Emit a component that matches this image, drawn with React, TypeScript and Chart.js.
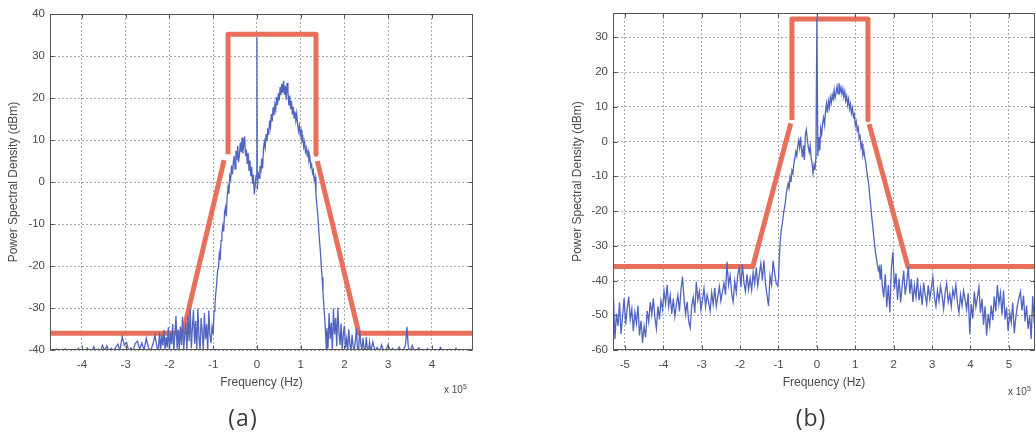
import React, { useEffect, useRef } from "react";
import { Chart, registerables } from "chart.js";

Chart.register(...registerables);

// ---------- Panel (a) ----------
const freqA: number[] = [
  -4.73,-4.68,-4.63,-4.58,-4.53,-4.48,-4.43,-4.38,-4.33,-4.28,
  -4.23,-4.18,-4.13,-4.08,-4.03,-3.98,-3.93,-3.88,-3.83,-3.78,
  -3.73,-3.68,-3.63,-3.58,-3.53,-3.48,-3.43,-3.38,-3.33,-3.28,
  -3.23,-3.18,-3.13,-3.08,-3.03,-2.98,-2.93,-2.88,-2.83,-2.78,
  -2.73,-2.68,-2.63,-2.58,-2.53,-2.48,-2.43,-2.38,-2.33,-2.28,
  -2.25,-2.225,-2.2,-2.175,-2.15,-2.125,-2.1,-2.075,-2.05,-2.025,
  -2,-1.975,-1.95,-1.925,-1.9,-1.875,-1.85,-1.825,-1.8,-1.775,
  -1.75,-1.725,-1.7,-1.675,-1.65,-1.625,-1.6,-1.575,-1.55,-1.525,
  -1.5,-1.475,-1.45,-1.425,-1.4,-1.375,-1.35,-1.325,-1.3,-1.275,
  -1.25,-1.225,-1.2,-1.175,-1.15,-1.125,-1.1,-1.075,-1.05,-1.025,
  -1,-0.98,-0.96,-0.94,-0.92,-0.9,-0.88,-0.86,-0.84,-0.82,
  -0.8,-0.78,-0.76,-0.74,-0.72,-0.7,-0.68,-0.66,-0.64,-0.62,
  -0.6,-0.58,-0.56,-0.54,-0.52,-0.5,-0.48,-0.46,-0.44,-0.42,
  -0.4,-0.38,-0.36,-0.34,-0.32,-0.3,-0.28,-0.26,-0.24,-0.22,
  -0.2,-0.18,-0.16,-0.14,-0.12,-0.1,-0.08,-0.06,-0.04,-0.02,
  0,
  0.01,0.03,0.05,0.07,0.09,0.11,0.13,0.15,0.17,0.19,
  0.21,0.23,0.25,0.27,0.29,0.31,0.33,0.35,0.37,0.39,
  0.41,0.43,0.45,0.47,0.49,0.51,0.53,0.55,0.57,0.59,
  0.61,0.63,0.65,0.67,0.69,0.71,0.73,0.75,0.77,0.79,
  0.81,0.83,0.85,0.87,0.89,0.91,0.93,0.95,0.97,0.99,
  1.01,1.03,1.05,1.07,1.09,1.11,1.13,1.15,1.17,1.19,
  1.21,1.23,1.25,1.27,1.29,1.31,1.33,1.35,1.37,1.39,
  1.41,1.43,1.45,1.47,1.49,1.51,1.53,1.55,1.57,1.59,
  1.6,1.625,1.65,1.675,1.7,1.725,1.75,1.775,1.8,1.825,
  1.85,1.875,1.9,1.925,1.95,1.975,2,2.025,2.05,2.075,
  2.1,2.125,2.15,2.175,2.2,2.225,2.25,2.275,2.3,2.325,
  2.35,2.375,2.4,2.425,2.45,2.475,2.5,2.525,2.55,2.575,
  2.6,2.65,2.7,2.75,2.8,2.85,2.9,2.95,3,3.05,
  3.1,3.15,3.2,3.25,3.3,3.35,3.4,3.43,3.46,3.5,
  3.55,3.6,3.65,3.7,3.75,3.8,3.85,3.9,3.95,4,
  4.05,4.1,4.15,4.2,4.25,4.3,4.35,4.4,4.45,4.5,
  4.55,4.6,4.65,4.7,4.75,4.8,4.85,4.9,4.94,
];

const psdA: number[] = [
  -40.5,-40.2,-40.6,-39.8,-40.4,-40.1,-40.6,-39.7,-40.3,-40.5,
  -39.9,-40.4,-40.2,-39.6,-40.5,-40.0,-40.4,-39.5,-40.3,-40.6,
  -39.2,-40.4,-39.8,-40.5,-38.9,-40.2,-39.0,-40.4,-39.6,-40.3,
  -39.4,-38.6,-40.1,-36.8,-38.9,-38.2,-40.3,-39.5,-40.2,-38.4,
  -37.9,-39.8,-38.3,-40.1,-37.2,-39.4,-40.2,-38.7,-36.5,-39.6,
  -39.5,-35.8,-40.3,-36.4,-38.9,-35.2,-40.1,-36.9,-39.4,-34.6,
  -40.2,-35.9,-38.6,-33.8,-40.4,-36.2,-31.9,-39.7,-35.1,-40.3,
  -34.4,-38.8,-32.1,-40.2,-36.5,-33.6,-40.1,-31.8,-37.9,-30.2,
  -39.6,-34.7,-30.4,-38.5,-33.1,-40.3,-30.1,-36.8,-39.9,-32.4,
  -35.7,-40.2,-31.2,-37.4,-33.9,-40.1,-30.6,-36.2,-38.4,-34.5,
  -36.2,-30.8,-29.1,-26.5,-24.3,-21.2,-20.4,-17.1,-18.6,-13.9,
  -12.2,-10.4,-11.8,-7.3,-6.1,-8.2,-3.4,-1.2,-2.8,1.4,
  0.6,3.9,1.8,4.6,6.2,3.1,7.4,5.2,8.6,4.7,
  6.3,9.4,7.1,10.6,6.8,8.9,10.8,6.2,7.7,4.3,
  6.9,2.8,5.1,1.4,3.6,-0.4,1.8,-2.9,-0.8,1.5,
  34.5,
  -1.8,2.4,0.9,3.8,2.1,5.6,3.2,7.9,9.6,8.1,
  11.4,9.7,12.8,11.2,14.6,13.1,16.2,14.4,17.8,15.9,
  18.4,17.1,20.2,18.3,21.1,19.4,22.6,20.7,23.4,21.2,
  24.1,20.8,22.9,19.6,23.6,21.4,18.2,20.6,17.4,19.3,
  16.1,17.9,15.2,16.8,14.6,16.3,13.8,12.1,13.4,11.2,
  12.3,9.8,10.6,8.4,9.5,7.2,8.1,6.4,7.3,5.1,
  5.9,3.6,4.2,2.1,2.8,0.4,1.2,-3.1,-5.4,-7.6,
  -10.8,-13.9,-16.4,-19.8,-22.7,-26.1,-29.4,-32.3,-36.1,-40.4,
  -34.8,-39.6,-31.2,-37.4,-33.5,-40.2,-30.1,-36.3,-32.4,-39.1,
  -29.9,-35.6,-38.8,-33.7,-40.3,-36.1,-34.2,-39.5,-37.3,-40.2,
  -35.1,-38.6,-40.3,-36.4,-39.2,-40.1,-37.8,-34.9,-39.6,-40.3,
  -35.4,-38.5,-40.2,-37.1,-39.7,-40.4,-36.9,-39.8,-40.3,-38.1,
  -40.4,-38.1,-40.2,-39.4,-40.5,-38.8,-40.3,-40.1,-38.7,-40.4,
  -39.6,-40.2,-40.5,-39.3,-40.3,-40.1,-38.6,-34.5,-39.2,-40.3,
  -38.9,-40.4,-40.1,-39.5,-40.3,-40.5,-40.2,-39.7,-40.4,-40.2,
  -40.5,-39.9,-40.3,-39.4,-40.4,-40.1,-40.5,-39.8,-40.3,-40.4,
  -39.6,-40.2,-40.5,-40.1,-40.3,-39.9,-40.4,-40.2,-40.3,
];

const maskFreqA: number[] = [-4.73, -1.69, -0.75, -0.71, -0.66, -0.66, 1.35, 1.35, 1.365, 1.38, 2.33, 4.94];
const maskA: (number | null)[] = [-36, -36, 5.2, null, 6.6, 35.2, 35.2, 6.6, null, 5.0, -36, -36];

// ---------- Panel (b) ----------
const freqB: number[] = [
  -5.30,-5.26,-5.22,-5.18,-5.14,-5.10,-5.06,-5.02,-4.98,-4.94,
  -4.90,-4.86,-4.82,-4.78,-4.74,-4.70,-4.66,-4.62,-4.58,-4.54,
  -4.50,-4.46,-4.42,-4.38,-4.34,-4.30,-4.26,-4.22,-4.18,-4.14,
  -4.10,-4.06,-4.02,-3.98,-3.94,-3.90,-3.86,-3.82,-3.78,-3.74,
  -3.70,-3.66,-3.62,-3.58,-3.54,-3.50,-3.46,-3.42,-3.38,-3.34,
  -3.30,-3.26,-3.22,-3.18,-3.14,-3.10,-3.06,-3.02,-2.98,-2.94,
  -2.90,-2.86,-2.82,-2.78,-2.74,-2.70,-2.66,-2.62,-2.58,-2.54,
  -2.50,-2.46,-2.42,-2.38,-2.34,-2.30,-2.26,-2.22,-2.18,-2.14,
  -2.10,-2.06,-2.02,-1.98,-1.94,-1.90,-1.86,-1.82,-1.78,-1.74,
  -1.70,-1.66,-1.62,-1.58,-1.54,-1.50,-1.46,-1.42,-1.38,-1.34,
  -1.30,-1.26,-1.22,-1.18,-1.14,-1.10,-1.06,-1.02,
  -1,-0.975,-0.95,-0.925,-0.9,-0.875,-0.85,-0.825,-0.8,-0.775,
  -0.75,-0.725,-0.7,-0.675,-0.65,-0.625,-0.6,-0.575,-0.55,-0.525,
  -0.5,-0.475,-0.45,-0.425,-0.4,-0.375,-0.35,-0.325,-0.3,-0.275,
  -0.25,-0.225,-0.2,-0.175,-0.15,-0.125,-0.1,-0.075,-0.05,-0.025,
  0,
  0.025,0.05,0.075,0.1,0.125,0.15,0.175,0.2,0.225,0.25,
  0.275,0.3,0.325,0.35,0.375,0.4,0.425,0.45,0.475,0.5,
  0.525,0.55,0.575,0.6,0.625,0.65,0.675,0.7,0.725,0.75,
  0.775,0.8,0.825,0.85,0.875,0.9,0.925,0.95,0.975,1,
  1.025,1.05,1.075,1.1,1.125,1.15,1.175,1.2,1.225,1.25,
  1.275,1.3,1.325,1.35,1.375,1.4,1.425,1.45,1.475,1.5,
  1.525,1.55,1.575,1.6,1.625,1.65,1.675,1.7,
  1.74,1.78,1.82,1.86,1.9,1.94,1.98,2.02,2.06,2.1,
  2.14,2.18,2.22,2.26,2.3,2.34,2.38,2.42,2.46,2.5,
  2.54,2.58,2.62,2.66,2.7,2.74,2.78,2.82,2.86,2.9,
  2.94,2.98,3.02,3.06,3.1,3.14,3.18,3.22,3.26,3.3,
  3.34,3.38,3.42,3.46,3.5,3.54,3.58,3.62,3.66,3.7,
  3.74,3.78,3.82,3.86,3.9,3.94,3.98,4.02,4.06,4.1,
  4.14,4.18,4.22,4.26,4.3,4.34,4.38,4.42,4.46,4.5,
  4.54,4.58,4.62,4.66,4.7,4.74,4.78,4.82,4.86,4.9,
  4.94,4.98,5.02,5.06,5.1,5.14,5.18,5.22,5.26,5.3,
  5.34,5.38,5.42,5.46,5.5,5.54,5.58,5.62,5.66,
];

const psdB: number[] = [
  -44.2,-56.8,-49.5,-53.1,-46.3,-55.4,-50.2,-45.1,-52.7,-47.9,
  -44.6,-51.3,-48.2,-54.6,-49.1,-52.4,-47.3,-55.8,-51.6,-57.9,
  -53.2,-56.4,-48.7,-51.9,-46.2,-49.8,-45.1,-50.6,-53.9,-47.4,
  -51.2,-45.8,-48.3,-43.1,-46.7,-41.2,-47.5,-44.3,-49.6,-45.2,
  -50.4,-47.1,-44.2,-48.9,-42.6,-38.9,-45.3,-49.7,-46.1,-51.8,
  -53.6,-47.2,-44.8,-49.3,-40.4,-45.6,-43.1,-48.4,-45.7,-42.3,
  -47.5,-44.1,-46.3,-48.8,-43.5,-46.9,-42.2,-47.4,-44.6,-41.8,
  -45.9,-43.2,-40.7,-44.1,-34.6,-41.3,-38.5,-43.7,-46.1,-40.2,
  -43.4,-38.1,-36.3,-41.9,-35.4,-40.6,-43.2,-38.2,-42.6,-39.4,
  -42.8,-37.6,-40.9,-36.2,-41.5,-38.3,-35.1,-39.8,-34.2,-40.7,
  -44.1,-47.3,-38.6,-41.2,-34.3,-37.9,-40.8,-41.5,
  -39.6,-32.4,-28.1,-25.3,-23.6,-21.2,-19.4,-17.8,-15.3,-13.6,
  -12.1,-13.4,-10.2,-11.6,-8.3,-9.2,-6.4,-4.8,-2.9,-4.1,
  -1.5,0.3,-1.8,1.4,-2.2,-4.6,-1.1,-5.3,1.9,3.4,
  0.8,-1.6,-3.1,-1.2,-4.7,-6.3,-9.1,-6.8,-8.2,-4.5,
  35.8,
  -4.2,1.3,-2.6,3.8,2.1,5.4,6.9,4.8,8.7,10.9,
  8.3,11.6,9.8,12.7,11.1,13.4,12.2,14.8,12.6,14.1,
  15.9,13.8,16.8,14.3,15.6,13.7,15.2,12.9,14.4,11.8,
  13.1,10.6,12.2,9.4,10.8,8.2,9.6,7.1,7.9,4.6,
  5.8,3.2,4.1,0.9,1.6,-1.8,-0.6,-3.9,-2.7,-4.8,
  -6.1,-8.7,-10.4,-12.3,-15.6,-18.2,-21.4,-23.9,-26.7,-29.3,
  -31.8,-33.6,-35.4,-37.1,-36.2,-39.8,-35.4,-41.3,
  -44.8,-38.2,-47.6,-41.3,-49.2,-36.4,-31.8,-42.5,-37.9,-45.6,
  -39.4,-46.3,-41.7,-37.2,-44.1,-40.6,-35.9,-43.8,-39.6,-46.2,
  -41.5,-44.8,-39.2,-45.7,-42.3,-47.1,-40.6,-44.2,-46.8,-41.4,
  -45.3,-42.1,-39.1,-44.7,-47.4,-42.8,-45.9,-41.6,-44.3,-48.2,
  -43.4,-40.8,-46.2,-43.9,-47.5,-42.6,-44.8,-41.2,-46.4,-49.3,
  -44.1,-47.2,-42.9,-45.6,-48.4,-43.7,-55.3,-46.8,-50.9,-43.2,
  -47.6,-44.8,-41.9,-49.3,-45.2,-52.7,-47.4,-55.8,-49.6,-53.1,
  -47.2,-51.4,-44.6,-48.9,-41.3,-46.7,-43.5,-49.8,-42.9,-51.2,
  -47.8,-54.6,-49.3,-52.1,-46.4,-55.2,-50.7,-47.3,-45.1,-43.2,
  -48.6,-44.3,-51.8,-47.2,-53.9,-50.1,-56.8,-44.5,-52.3,
];

const maskFreqB: number[] = [-5.31, -1.67, -0.68, -0.665, -0.65, -0.65, 1.33, 1.33, 1.345, 1.36, 2.37, 5.68];
const maskB: (number | null)[] = [-36, -36, 5.2, null, 6.2, 35.3, 35.3, 6.3, null, 5.0, -36, -36];

const X_TITLE = "Frequency (Hz)";
const Y_TITLE = "Power Spectral Density (dBm)";

const TEXT = "#4a4a4a";
const FONT = "'Liberation Sans', Arial, Helvetica, sans-serif";
const BLUE = "#5064c0";
const RED = "#e8705b";

const toPoints = (xs: number[], ys: (number | null)[]) =>
  xs.map((x, i) => ({ x, y: ys[i] }));

const boxPlugin = {
  id: "matlabBox",
  afterDraw(chart: any) {
    const { ctx, chartArea: a, scales } = chart;
    ctx.save();
    ctx.setLineDash([]);
    ctx.strokeStyle = "#555";
    ctx.lineWidth = 1;
    const L = Math.round(a.left) + 0.5;
    const T = Math.round(a.top) + 0.5;
    const R = Math.round(a.right) - 0.5;
    const B = Math.round(a.bottom) - 0.5;
    ctx.strokeRect(L, T, R - L, B - T);
    ctx.beginPath();
    scales.x.ticks.forEach((t: any) => {
      const p = Math.round(scales.x.getPixelForValue(t.value)) + 0.5;
      ctx.moveTo(p, B);
      ctx.lineTo(p, B - 4);
      ctx.moveTo(p, T);
      ctx.lineTo(p, T + 4);
    });
    scales.y.ticks.forEach((t: any) => {
      const p = Math.round(scales.y.getPixelForValue(t.value)) + 0.5;
      ctx.moveTo(L, p);
      ctx.lineTo(L + 4, p);
      ctx.moveTo(R, p);
      ctx.lineTo(R - 4, p);
    });
    ctx.stroke();
    ctx.restore();
  },
};

interface PanelSpec {
  freq: number[];
  psd: number[];
  maskFreq: number[];
  mask: (number | null)[];
  xMin: number;
  xMax: number;
  yMin: number;
  yMax: number;
  yAxisWidth: number;
  yTitlePad: number;
  padding: { left: number; top: number; right: number; bottom: number };
}

function buildConfig(s: PanelSpec): any {
  const tickFont = { family: FONT, size: 11.5 };
  const titleFont = { family: FONT, size: 12 };
  return {
    type: "line",
    data: {
      datasets: [
        {
          data: toPoints(s.freq, s.psd),
          borderColor: BLUE,
          borderWidth: 1.3,
          pointRadius: 0,
          tension: 0,
          clip: 0,
        },
        {
          data: toPoints(s.maskFreq, s.mask),
          borderColor: RED,
          borderWidth: 5,
          pointRadius: 0,
          tension: 0,
          spanGaps: false,
          borderJoinStyle: "round",
          clip: 0,
        },
      ],
    },
    options: {
      animation: false,
      responsive: false,
      maintainAspectRatio: false,
      devicePixelRatio: 1,
      events: [],
      layout: { padding: s.padding },
      plugins: { legend: { display: false }, tooltip: { enabled: false } },
      scales: {
        x: {
          type: "linear",
          min: s.xMin,
          max: s.xMax,
          afterFit: (sc: any) => {
            sc.height = 50;
          },
          ticks: {
            stepSize: 1,
            includeBounds: false,
            padding: 8,
            autoSkip: false,
            maxRotation: 0,
            font: tickFont,
            color: TEXT,
            callback: (v: any) => String(v),
          },
          grid: { color: "#aaaaaa", lineWidth: 1, drawTicks: false },
          border: { display: false, dash: [2, 2] },
          title: {
            display: true,
            text: X_TITLE,
            font: titleFont,
            color: TEXT,
            padding: { top: 0, bottom: 10 },
          },
        },
        y: {
          type: "linear",
          min: s.yMin,
          max: s.yMax,
          afterFit: (sc: any) => {
            sc.width = s.yAxisWidth;
          },
          ticks: {
            stepSize: 10,
            includeBounds: false,
            padding: 5,
            font: tickFont,
            color: TEXT,
            callback: (v: any) => String(v),
          },
          grid: { color: "#aaaaaa", lineWidth: 1, drawTicks: false },
          border: { display: false, dash: [2, 2] },
          title: {
            display: true,
            text: Y_TITLE,
            font: titleFont,
            color: TEXT,
            padding: { top: s.yTitlePad, bottom: 0 },
          },
        },
      },
    },
    plugins: [boxPlugin],
  };
}

const panelA: PanelSpec = {
  freq: freqA,
  psd: psdA,
  maskFreq: maskFreqA,
  mask: maskA,
  xMin: -4.73,
  xMax: 4.94,
  yMin: -40,
  yMax: 40,
  yAxisWidth: 50,
  yTitlePad: 6,
  padding: { left: 0, top: 14, right: 27, bottom: 38 },
};

const panelB: PanelSpec = {
  freq: freqB,
  psd: psdB,
  maskFreq: maskFreqB,
  mask: maskB,
  xMin: -5.31,
  xMax: 5.68,
  yMin: -60,
  yMax: 37,
  yAxisWidth: 77,
  yTitlePad: 34,
  padding: { left: 0, top: 13, right: 1, bottom: 38 },
};

const expStyle = (left: number, top: number): React.CSSProperties => ({
  position: "absolute",
  left,
  top,
  fontFamily: FONT,
  fontSize: 10,
  color: TEXT,
  whiteSpace: "nowrap",
  lineHeight: "12px",
});

const capStyle = (centerX: number): React.CSSProperties => ({
  position: "absolute",
  left: centerX - 40,
  width: 80,
  top: 405,
  textAlign: "center",
  fontFamily: "'Open Sans', 'DejaVu Sans', sans-serif",
  fontSize: 23,
  lineHeight: "25px",
  letterSpacing: 1,
  color: "#3a3a3a",
});

export default function App() {
  const refA = useRef<HTMLCanvasElement | null>(null);
  const refB = useRef<HTMLCanvasElement | null>(null);

  useEffect(() => {
    const charts: Chart[] = [];
    if (refA.current) charts.push(new Chart(refA.current, buildConfig(panelA)));
    if (refB.current) charts.push(new Chart(refB.current, buildConfig(panelB)));
    return () => {
      charts.forEach((c) => c.destroy());
    };
  }, []);

  return (
    <div
      style={{
        position: "absolute",
        left: 0,
        top: 0,
        width: 1036,
        height: 438,
        overflow: "hidden",
        background: "#ffffff",
      }}
    >
      <canvas
        ref={refA}
        width={500}
        height={438}
        style={{ position: "absolute", left: 0, top: 0, width: 500, height: 438 }}
      />
      <canvas
        ref={refB}
        width={500}
        height={438}
        style={{ position: "absolute", left: 536, top: 0, width: 500, height: 438 }}
      />
      <div style={expStyle(444, 381)}>
        x 10<sup style={{ fontSize: 7, verticalAlign: "4px" }}>5</sup>
      </div>
      <div style={expStyle(1008, 383)}>
        x 10<sup style={{ fontSize: 7, verticalAlign: "4px" }}>5</sup>
      </div>
      <div style={capStyle(243)}>(a)</div>
      <div style={capStyle(811)}>(b)</div>
    </div>
  );
}
